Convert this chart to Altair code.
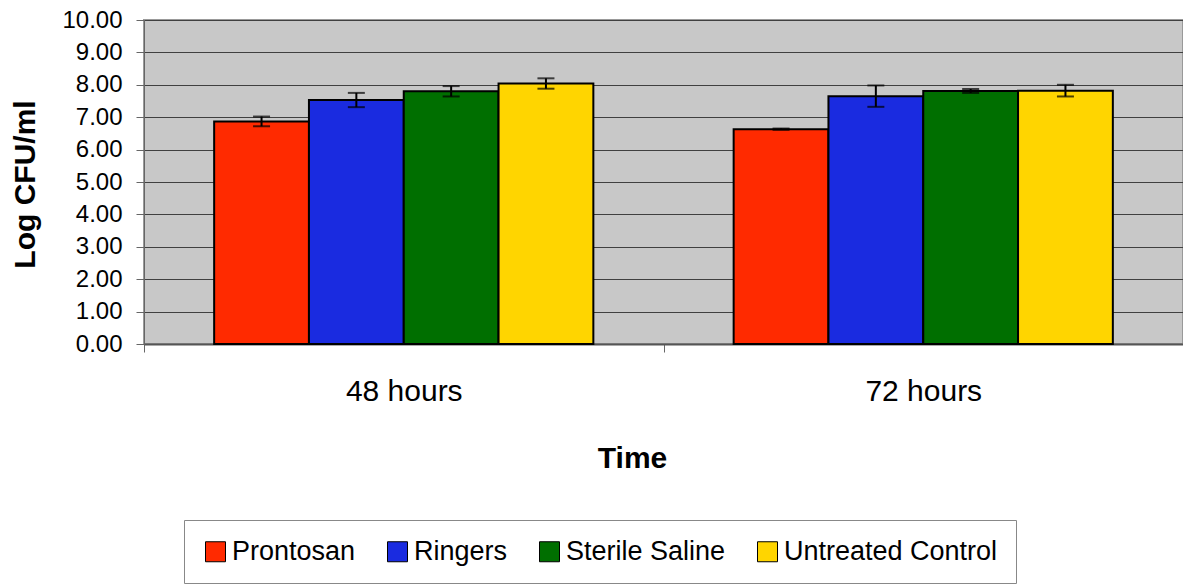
import altair as alt
import pandas as pd

# ---- data ----
times = ["48 hours", "72 hours"]
treatments = ["Prontosan", "Ringers", "Sterile Saline", "Untreated Control"]
means_48 = [6.87, 7.53, 7.80, 8.04]
means_72 = [6.63, 7.65, 7.81, 7.82]
err_48 = [0.15, 0.22, 0.16, 0.16]
err_72 = [0.02, 0.33, 0.06, 0.18]
colors = ["#FF2A00", "#1A2BE0", "#006F00", "#FFD500"]
y_ticks = [0, 1, 2, 3, 4, 5, 6, 7, 8, 9, 10]

rows = []
for t, means, errs in zip(times, [means_48, means_72], [err_48, err_72]):
    for tr, m, e in zip(treatments, means, errs):
        rows.append({"Time": t, "Treatment": tr, "mean": m, "lo": m - e, "hi": m + e})
df = pd.DataFrame(rows)

FONT = "Liberation Sans"

x_axis = alt.Axis(
    labelFont=FONT, labelFontSize=30, labelColor="black", labelAngle=0,
    labelPadding=24, tickSize=8, tickColor="#666", tickBand="extent",
    domainColor="#555", domainWidth=2, grid=False,
    title="Time", titleFont=FONT, titleFontSize=30, titleFontWeight="bold",
    titleColor="black", titleX=488, titleY=123, titleBaseline="alphabetic",
    titleAlign="center",
)
y_axis = alt.Axis(
    values=y_ticks, format=".2f",
    labelFont=FONT, labelFontSize=24, labelColor="black", labelPadding=14,
    tickSize=8, tickColor="#666", domainColor="#666", domainWidth=1,
    grid=True, gridColor="#404040", gridWidth=1,
    title="Log CFU/ml", titleFont=FONT, titleFontSize=30, titleFontWeight="bold",
    titleColor="black", titleAngle=270, titleX=-110, titleY=164,
    titleBaseline="alphabetic", titleAlign="center",
)

x_enc = alt.X("Time:N", sort=times, scale=alt.Scale(paddingInner=0, paddingOuter=0), axis=x_axis)
xo_enc = alt.XOffset("Treatment:N", sort=treatments,
                     scale=alt.Scale(paddingInner=0, paddingOuter=0.74))
y_scale = alt.Scale(domain=[0, 10], nice=False)

base = alt.Chart(df)

bars = base.mark_bar(stroke="black", strokeWidth=2).encode(
    x=x_enc,
    xOffset=xo_enc,
    y=alt.Y("mean:Q", scale=y_scale, axis=y_axis),
    color=alt.Color(
        "Treatment:N", sort=treatments,
        scale=alt.Scale(domain=treatments, range=colors),
        legend=alt.Legend(
            orient="none", legendX=40, legendY=500, direction="horizontal",
            title=None, symbolType="square", symbolSize=400,
            symbolStrokeColor="black", symbolStrokeWidth=1, symbolOpacity=1,
            labelFont=FONT, labelFontSize=27, labelColor="black",
            labelOffset=3, columnPadding=28, padding=18, labelLimit=0,
            strokeColor="#888", fillColor="white",
        ),
    ),
)

rules = base.mark_rule(color="black", strokeWidth=2).encode(
    x=x_enc, xOffset=xo_enc,
    y=alt.Y("lo:Q", scale=y_scale, axis=y_axis),
    y2="hi:Q",
)
caps_lo = base.mark_tick(color="black", size=17, thickness=2, orient="horizontal").encode(
    x=x_enc, xOffset=xo_enc,
    y=alt.Y("lo:Q", scale=y_scale, axis=y_axis),
)
caps_hi = base.mark_tick(color="black", size=17, thickness=2, orient="horizontal").encode(
    x=x_enc, xOffset=xo_enc,
    y=alt.Y("hi:Q", scale=y_scale, axis=y_axis),
)

chart = alt.layer(bars, rules, caps_lo, caps_hi).properties(
    width=1039, height=324,
    padding={"left": 136, "top": 12, "right": 0, "bottom": 240},
    autosize=alt.AutoSizeParams(type="none"),
    background="white",
).configure_view(fill="#C8C8C8", stroke="#999", strokeWidth=2)

chart.save("out.html", embed_options={"renderer": "svg", "actions": False})
